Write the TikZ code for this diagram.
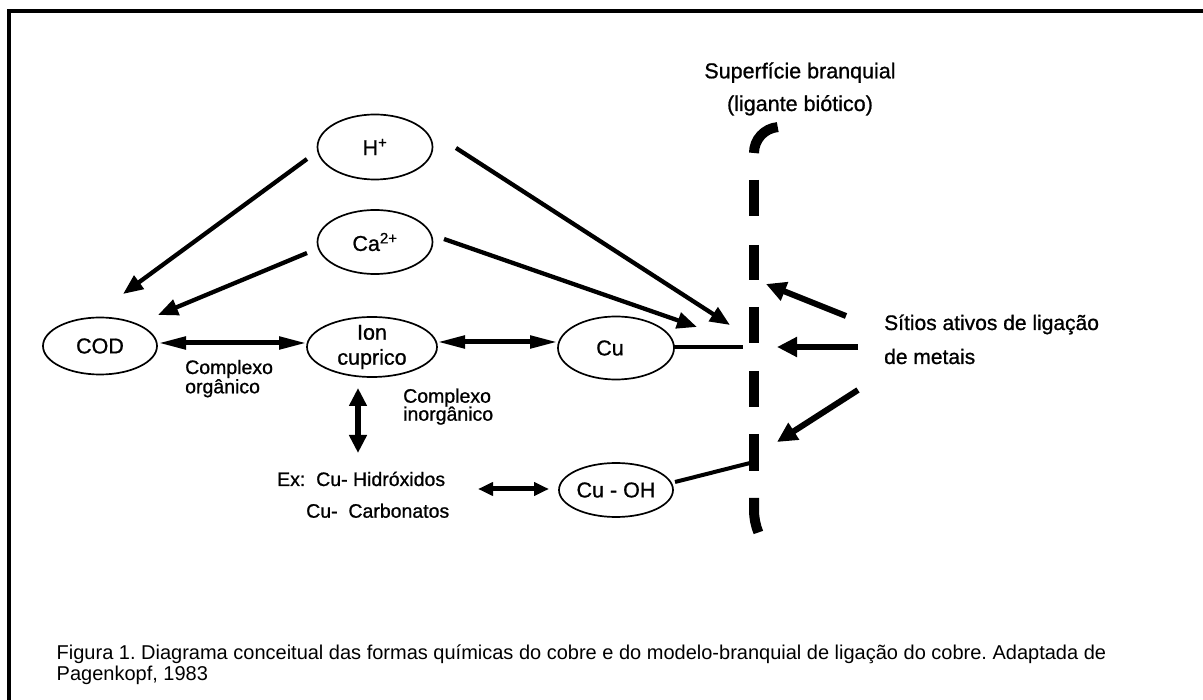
\documentclass[tikz,border=0pt]{standalone}
\usepackage{fontspec}
\setmainfont{Liberation Sans}
\newfontfamily\dfont[FakeBold=0.9]{Liberation Sans}
\usetikzlibrary{arrows.meta,shapes.geometric}
\newcommand\fsz[1]{\fontsize{#1}{#1}\selectfont}
\newcommand\dsz[1]{\dfont\fontsize{#1}{#1}\selectfont}
\frenchspacing
\begin{document}
\begin{tikzpicture}[x=1pt,y=-1pt,
  ell/.style={draw,ellipse,line width=1.7pt,inner sep=0pt,font=\dsz{21.5}},
  lab/.style={inner sep=0pt,font=\dsz{21.5}},
  txt/.style={inner sep=0pt,anchor=base west},
  ctxt/.style={inner sep=0pt,anchor=base},
  arr/.style={line width=4.3pt,-{Triangle[length=20pt,width=16pt]}},
  sarr/.style={line width=6pt,-{Triangle[length=20pt,width=19pt]}},
  dbl/.style={line width=5pt,{Triangle[length=28pt,width=12pt]}-{Triangle[length=28pt,width=12pt]}},
  vdbl/.style={line width=6.5pt,{Triangle[length=18pt,width=17pt]}-{Triangle[length=18pt,width=17pt]}},
  sdbl/.style={line width=5pt,{Triangle[length=15pt,width=13pt]}-{Triangle[length=15pt,width=13pt]}},
  link/.style={line width=4pt},
  surf/.style={line width=10pt}]
\useasboundingbox (0,0) rectangle (1203,700);
% frame
\draw[line width=3.5pt] (9,700) -- (9,11) -- (1203,11);

% ellipse nodes
\node[ell,minimum width=115pt,minimum height=65pt] (h) at (375,147) {H\textsuperscript{+}};
\node[ell,minimum width=115pt,minimum height=64pt] (ca) at (375,242) {Ca\textsuperscript{2+}};
\node[ell,minimum width=114pt,minimum height=57pt] (cod) at (100,346) {COD};
\node[ell,minimum width=130pt,minimum height=60pt,
  label={[name=iontxt,lab,align=center,font=\dfont\fontsize{21.5}{25}\selectfont]center:Ion\\cuprico}] (ion) at (372,347) {};
\node[ell,minimum width=116pt,minimum height=63pt,
  label={[name=cutxt,lab,xshift=-6pt]center:Cu}] (cu) at (616,348) {};
\node[ell,minimum width=114pt,minimum height=54pt] (cuoh) at (616,490) {Cu - OH};

% labels
\node[txt,font=\dsz{19.5}] (org1) at (185,374) {Complexo};
\node[txt,font=\dsz{19.5}] (org2) at (185,393.3) {orgânico};
\node[txt,font=\dsz{19.5}] (inorg1) at (403,402.7) {Complexo};
\node[txt,font=\dsz{19.5}] (inorg2) at (403,420.7) {inorgânico};
\node[txt,font=\dsz{19.5}] (ex1) at (277,486) {Ex:~~Cu- Hidróxidos};
\node[txt,font=\dsz{19.5}] (ex2) at (306,517.7) {Cu-~~Carbonatos};
\node[ctxt,font=\dsz{21.5}] (sup1) at (800,78.3) {Superfície branquial};
\node[ctxt,font=\dsz{21.5}] (sup2) at (800,111) {(ligante biótico)};
\node[txt,font=\dsz{21}] (sit1) at (884,330) {Sítios ativos de ligação};
\node[txt,font=\dsz{21}] (sit2) at (884,364) {de metais};
\node[txt,font=\fsz{20}] (cap1) at (56.5,659.3) {Figura 1. Diagrama conceitual das formas químicas do cobre e do modelo-branquial de ligação do cobre. Adaptada de};
\node[txt,font=\fsz{20}] (cap2) at (56.5,680.7) {Pagenkopf, 1983};

% gill surface (dashed)
\draw[surf] (754,153) arc[start angle=180,end angle=265,radius=26];
\foreach \a/\b in {180/216,245/280,307/343,371/407,434/471}
  \draw[surf] (754,\a) -- (754,\b);
\draw[surf] (754,498) -- (754,510) arc[start angle=180,end angle=158,radius=60];

% coordinates for connector ends
\coordinate (hA) at (307,159);   \coordinate (codA) at (123,294);
\coordinate (caA) at (307,253);  \coordinate (codB) at (158,315);
\coordinate (hB) at (456,148);   \coordinate (sA) at (730,325);
\coordinate (caB) at (444,239);  \coordinate (sB) at (697,327);
\coordinate (codR) at (158,343); \coordinate (ionL) at (307,343);
\coordinate (ionR) at (437,342); \coordinate (cuL) at (558,342);
\coordinate (cuR) at (674,347);  \coordinate (sC) at (743,347);
\coordinate (ionB) at (358,388); \coordinate (exT) at (358,453);
\coordinate (exR) at (478,489);  \coordinate (cuohL) at (549,489);
\coordinate (cuohR) at (675,482); \coordinate (sD) at (750,463);
\coordinate (m1) at (846,316);   \coordinate (t1) at (766,284);
\coordinate (m2) at (858,347);   \coordinate (t2) at (777,347);
\coordinate (m3) at (858,390);   \coordinate (t3) at (777,442);

% connectors
\draw[arr] (hA) -- (codA);
\draw[arr] (caA) -- (codB);
\draw[arr] (hB) -- (sA);
\draw[arr] (caB) -- (sB);
\draw[dbl] (codR) -- (ionL);
\draw[dbl] (ionR) -- (cuL);
\draw[link] (cuR) -- (sC);
\draw[vdbl] (ionB) -- (exT);
\draw[sdbl] (exR) -- (cuohL);
\draw[link] (cuohR) -- (sD);
\draw[sarr] (m1) -- (t1);
\draw[sarr] (m2) -- (t2);
\draw[sarr] (m3) -- (t3);
\end{tikzpicture}
\end{document}
